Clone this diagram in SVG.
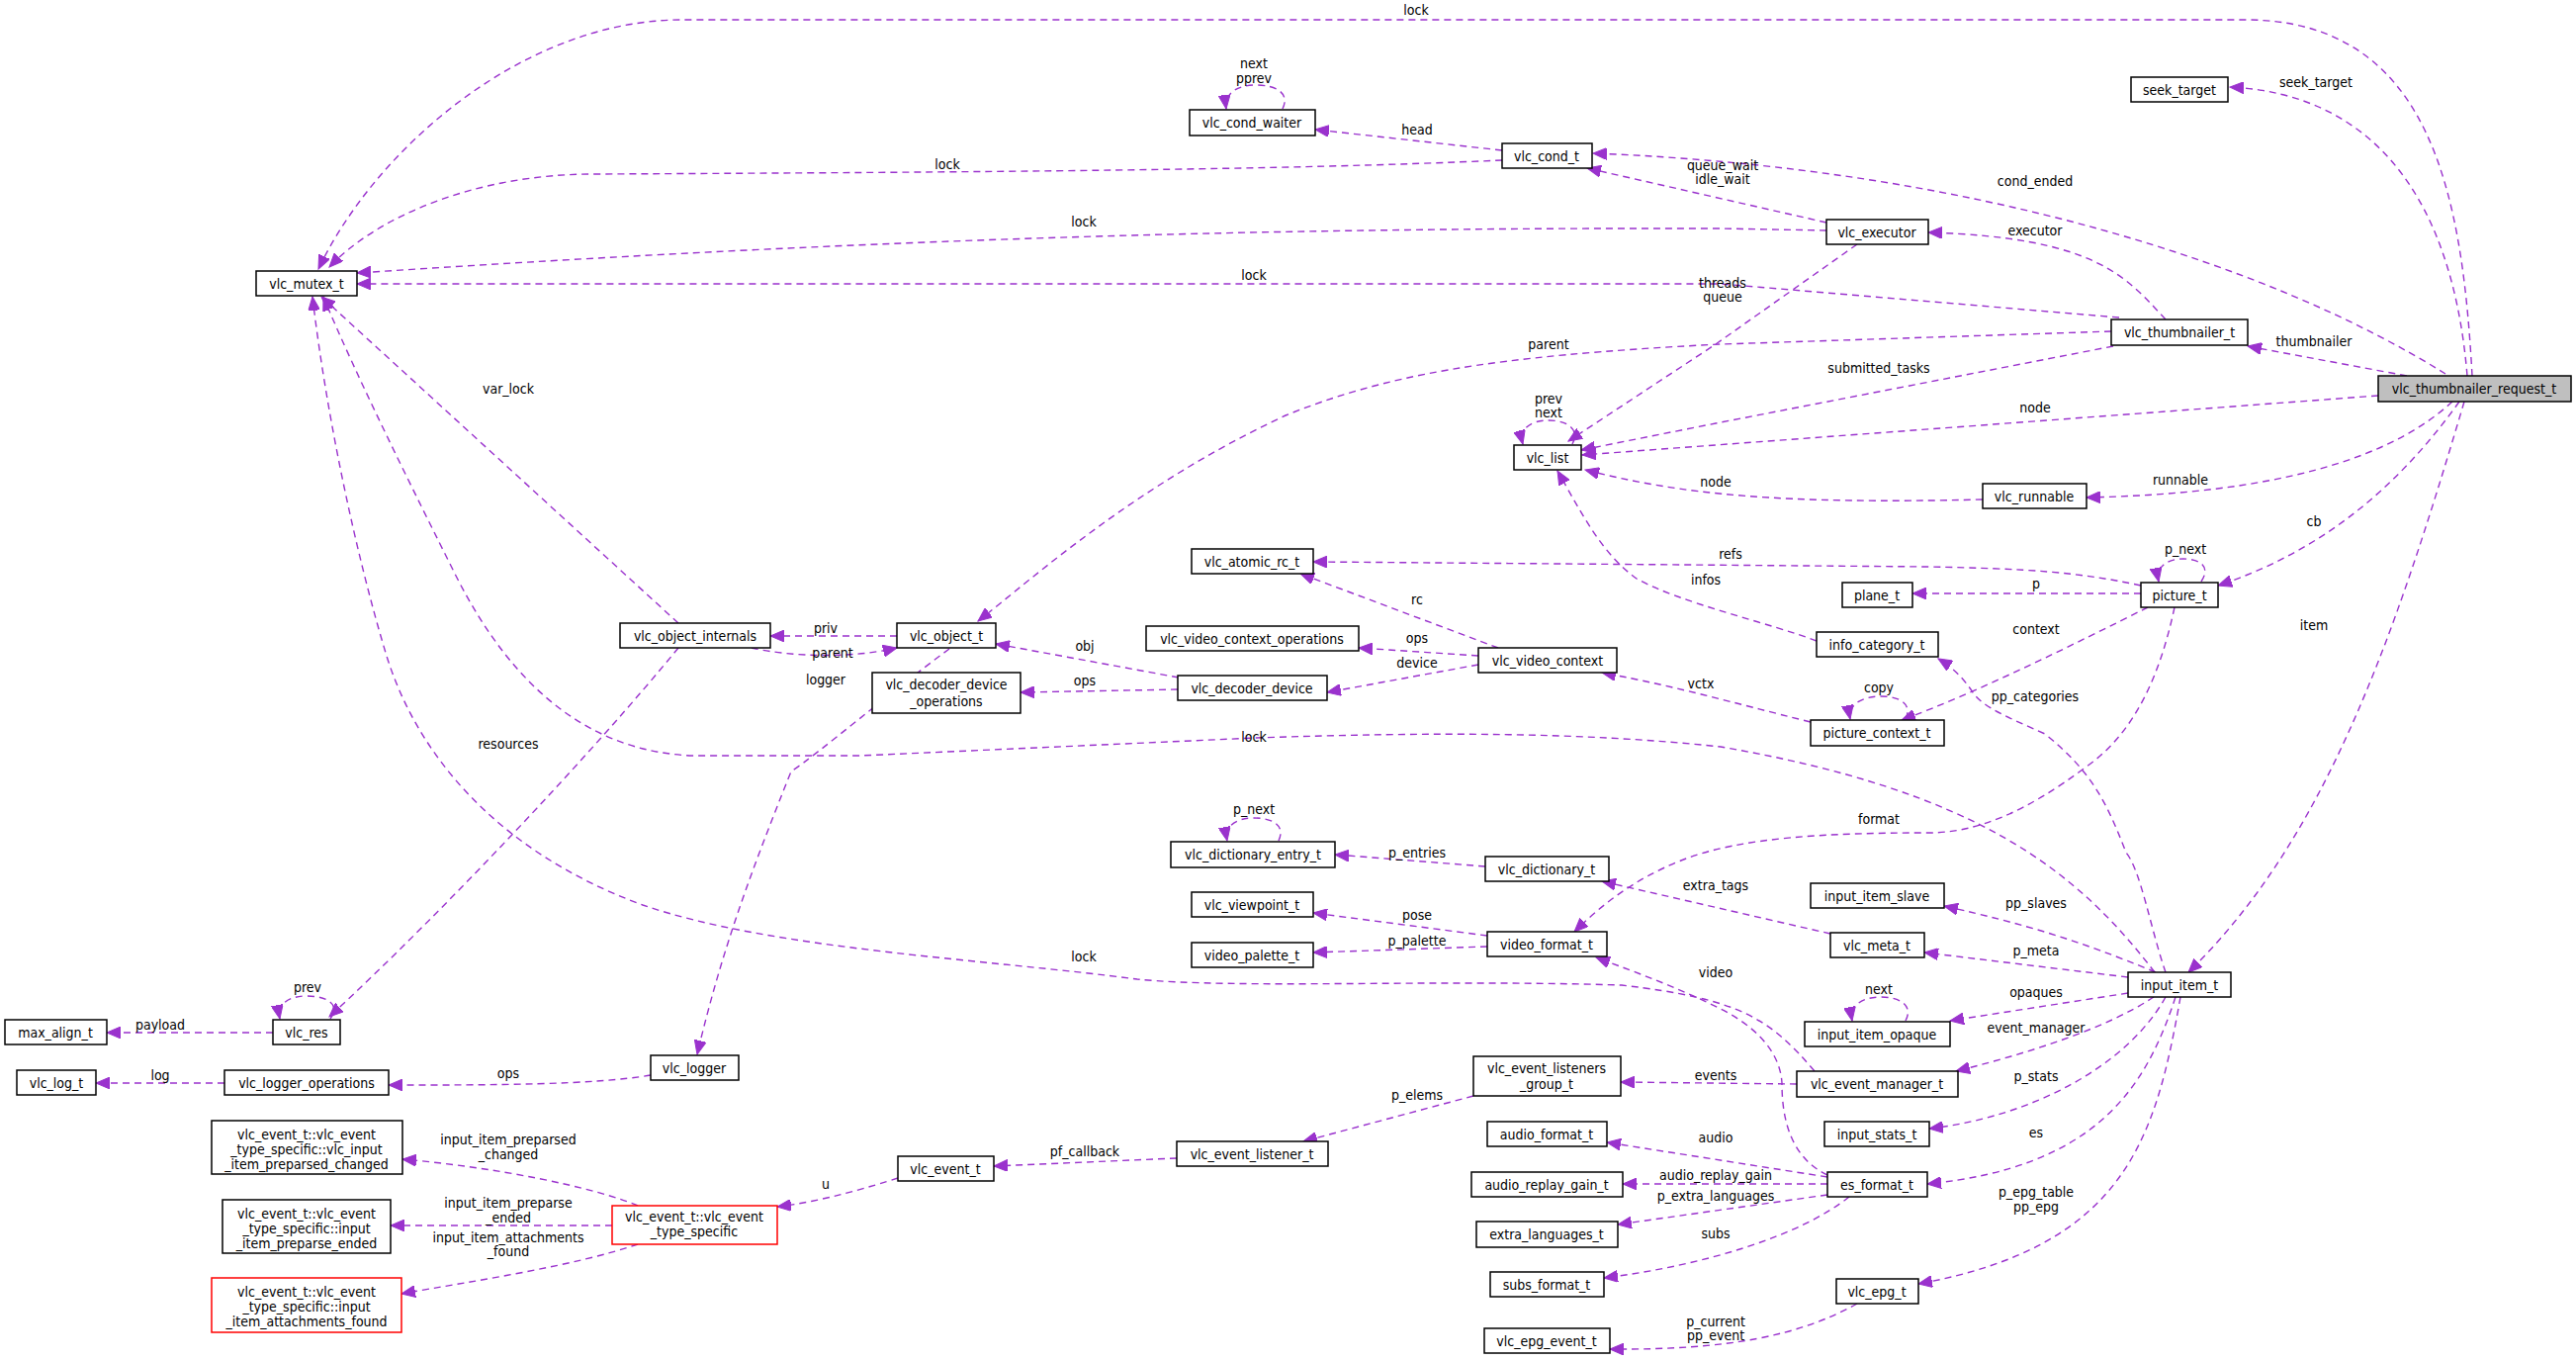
<svg xmlns="http://www.w3.org/2000/svg" width="2605" height="1375" viewBox="0 0 2605 1375">
<style>
text{font-family:"DejaVu Sans Condensed","DejaVu Sans",sans-serif;font-size:14px;fill:#000}
.n rect{fill:#fff;stroke:#000;stroke-width:1.5}
.n text{text-anchor:middle}
.red rect{stroke:#f00}
.cur rect{fill:#bfbfbf}
.e path{fill:none;stroke:#9a32cd;stroke-width:1.4;stroke-dasharray:7,5;marker-end:url(#ah)}
.e text{text-anchor:middle}
</style>
<defs>
<marker id="ah" markerUnits="userSpaceOnUse" markerWidth="16" markerHeight="12" refX="14" refY="6" orient="auto">
<path d="M0,0 L14,6 L0,12 z" fill="#9a32cd" stroke="#9a32cd"/>
</marker>
</defs>
<rect width="2605" height="1375" fill="#fff"/>
<g id="edges" class="e">
<path d="M2500,380 C2490,200 2460,20 2270,20 L690,20 C530,20 380,150 322,272"/><text x="1432" y="15">lock</text>
<path d="M2495,380 C2480,200 2400,95 2255,88"/><text x="2342" y="88">seek_target</text>
<path d="M2473,378 C2300,270 2000,170 1611,155"/><text x="2058" y="188">cond_ended</text>
<path d="M2434,380 L2273,350"/><text x="2340" y="350">thumbnailer</text>
<path d="M2405,400 L1600,460"/><text x="2058" y="417">node</text>
<path d="M2480,406 C2400,480 2250,500 2110,503"/><text x="2205" y="490">runnable</text>
<path d="M2487,406 C2420,500 2340,560 2243,592"/><text x="2340" y="532">cb</text>
<path d="M2492,406 C2420,650 2350,850 2213,983"/><text x="2340" y="637">item</text>
<path d="M2190,323 C2150,280 2120,240 1950,235"/><text x="2058" y="238">executor</text>
<path d="M2143,321 L1740,287 L361,287"/><text x="1268" y="283">lock</text>
<path d="M1878,247 L1735,348 L1586,446"/><text x="1742" y="291">threads</text><text x="1742" y="305">queue</text>
<path d="M2135,335 L1740,348 C1500,360 1400,380 1300,420 C1150,490 1050,580 989,628"/><text x="1566" y="353">parent</text>
<path d="M2137,350 L1735,428 L1599,455"/><text x="1900" y="377">submitted_tasks</text>
<path d="M1847,225 L1605,170"/><text x="1742" y="172">queue_wait</text><text x="1742" y="186">idle_wait</text>
<path d="M1847,233 L1740,231 C1300,230 900,240 361,276"/><text x="1096" y="229">lock</text>
<path d="M1519,162 C1300,172 1000,174 600,176 C480,176 380,220 333,270"/><text x="958" y="171">lock</text>
<path d="M1519,152 L1330,131"/><text x="1433" y="136">head</text>
<path d="M1297,110 C1305,94 1290,86 1270,86 C1250,86 1238,95 1240,110"/><text x="1268" y="69">next</text><text x="1268" y="84">pprev</text>
<path d="M1590,449 C1598,434 1585,425 1566,425 C1547,425 1536,434 1540,449"/><text x="1566" y="408">prev</text><text x="1566" y="422">next</text>
<path d="M2005,505 C1800,510 1700,500 1603,475"/><text x="1735" y="492">node</text>
<path d="M2165,592 C2100,578 2050,575 1950,573 L1328,568"/><text x="1750" y="565">refs</text>
<path d="M2165,600 L1934,600"/><text x="2059" y="595">p</text>
<path d="M2226,588 C2236,573 2225,565 2208,565 C2190,565 2180,574 2183,588"/><text x="2210" y="560">p_next</text>
<path d="M2172,614 C2100,650 2000,700 1923,728"/><text x="2059" y="641">context</text>
<path d="M2199,614 C2185,680 2160,740 2110,775 C2050,820 2000,842 1950,842 C1850,842 1760,846 1700,870 C1650,890 1620,915 1592,942"/><text x="1900" y="833">format</text>
<path d="M1831,730 C1750,710 1700,695 1620,680"/><text x="1720" y="696">vctx</text>
<path d="M1927,727 C1934,712 1922,704 1902,704 C1884,704 1868,712 1871,727"/><text x="1900" y="700">copy</text>
<path d="M1837,648 C1790,630 1700,610 1655,585 C1620,560 1600,520 1575,476"/><text x="1725" y="591">infos</text>
<path d="M2190,983 C2175,940 2165,880 2150,862 C2130,810 2115,780 2068,742 C2030,725 2005,715 1995,700 C1985,685 1975,675 1960,666"/><text x="2058" y="709">pp_categories</text>
<path d="M1515,655 L1315,580"/><text x="1433" y="611">rc</text>
<path d="M1495,663 L1374,655"/><text x="1433" y="650">ops</text>
<path d="M1495,672 L1342,700"/><text x="1433" y="675">device</text>
<path d="M1192,685 L1007,651"/><text x="1097" y="658">obj</text>
<path d="M1191,697 L1032,700"/><text x="1097" y="693">ops</text>
<path d="M907,643 L779,643"/><text x="835" y="640">priv</text>
<path d="M760,655 C800,664 860,666 907,655"/><text x="842" y="665">parent</text>
<path d="M686,630 L325,300"/><text x="514" y="398">var_lock</text>
<path d="M686,655 C600,760 450,920 333,1028"/><text x="514" y="757">resources</text>
<path d="M960,656 C900,700 830,760 800,780 C760,880 730,960 705,1066"/><text x="835" y="692">logger</text>
<path d="M334,1030 C345,1015 330,1007 310,1007 C292,1007 280,1015 283,1030"/><text x="311" y="1003">prev</text>
<path d="M276,1044 L108,1044"/><text x="162" y="1041">payload</text>
<path d="M658,1087 C600,1097 500,1097 393,1097"/><text x="514" y="1090">ops</text>
<path d="M227,1095 L97,1095"/><text x="162" y="1092">log</text>
<path d="M2179,983 C2100,880 2000,800 1740,755 C1600,740 1450,740 1270,746 L870,764 L700,764 C600,760 520,700 460,580 C420,500 360,380 327,300"/><text x="1268" y="750">lock</text>
<path d="M1835,1083 C1790,1030 1760,1010 1640,996 C1450,990 1250,1000 1150,990 C1000,970 780,960 650,915 C500,860 420,760 390,660 C360,560 330,420 316,300"/><text x="1096" y="972">lock</text>
<path d="M1502,876 L1350,864"/><text x="1433" y="867">p_entries</text>
<path d="M1293,850 C1300,835 1288,827 1268,827 C1250,827 1238,835 1241,850"/><text x="1268" y="823">p_next</text>
<path d="M1851,944 L1620,891"/><text x="1735" y="900">extra_tags</text>
<path d="M1504,946 L1328,923"/><text x="1433" y="930">pose</text>
<path d="M1504,957 L1328,963"/><text x="1433" y="956">p_palette</text>
<path d="M1848,1188 C1810,1170 1802,1130 1802,1095 C1800,1060 1770,1035 1740,1020 C1700,1000 1660,985 1614,968"/><text x="1735" y="988">video</text>
<path d="M2180,983 C2100,950 2050,935 1966,916"/><text x="2059" y="918">pp_slaves</text>
<path d="M2152,988 L1946,963"/><text x="2059" y="966">p_meta</text>
<path d="M2152,1004 L1972,1032"/><text x="2059" y="1008">opaques</text>
<path d="M1927,1032 C1935,1017 1922,1008 1902,1008 C1884,1008 1870,1016 1873,1032"/><text x="1900" y="1005">next</text>
<path d="M2178,1008 C2130,1040 2050,1065 1978,1083"/><text x="2059" y="1044">event_manager</text>
<path d="M2190,1008 C2150,1080 2050,1130 1951,1141"/><text x="2059" y="1093">p_stats</text>
<path d="M2200,1008 C2170,1100 2120,1180 1949,1197"/><text x="2059" y="1150">es</text>
<path d="M2205,1008 C2180,1150 2150,1260 1940,1298"/><text x="2059" y="1210">p_epg_table</text><text x="2059" y="1225">pp_epg</text>
<path d="M1817,1096 L1639,1094"/><text x="1735" y="1092">events</text>
<path d="M1490,1108 L1318,1154"/><text x="1433" y="1112">p_elems</text>
<path d="M1190,1171 L1005,1179"/><text x="1097" y="1169">pf_callback</text>
<path d="M908,1191 C880,1200 830,1215 786,1220"/><text x="835" y="1202">u</text>
<path d="M645,1219 C600,1200 500,1180 407,1172"/><text x="514" y="1157">input_item_preparsed</text><text x="514" y="1172">_changed</text>
<path d="M619,1239 L395,1239"/><text x="514" y="1221">input_item_preparse</text><text x="514" y="1236">_ended</text>
<path d="M645,1258 C580,1280 480,1295 406,1308"/><text x="514" y="1256">input_item_attachments</text><text x="514" y="1270">_found</text>
<path d="M1848,1190 L1625,1155"/><text x="1735" y="1155">audio</text>
<path d="M1848,1197 L1641,1197"/><text x="1735" y="1193">audio_replay_gain</text>
<path d="M1848,1208 L1636,1238"/><text x="1735" y="1214">p_extra_languages</text>
<path d="M1870,1210 C1820,1250 1720,1280 1622,1292"/><text x="1735" y="1252">subs</text>
<path d="M1878,1318 C1820,1350 1750,1365 1628,1364"/><text x="1735" y="1341">p_current</text><text x="1735" y="1355">pp_event</text>
</g>
<g id="vlc_thumbnailer_request_t" class="n cur"><rect x="2405" y="380" width="195" height="26"/><text x="2502" y="398">vlc_thumbnailer_request_t</text></g>
<g id="vlc_mutex_t" class="n"><rect x="259" y="274" width="102" height="25"/><text x="310" y="292">vlc_mutex_t</text></g>
<g id="seek_target" class="n"><rect x="2155" y="78" width="98" height="25"/><text x="2204" y="96">seek_target</text></g>
<g id="vlc_cond_waiter" class="n"><rect x="1203" y="111" width="127" height="26"/><text x="1266" y="129">vlc_cond_waiter</text></g>
<g id="vlc_cond_t" class="n"><rect x="1519" y="145" width="91" height="25"/><text x="1564" y="163">vlc_cond_t</text></g>
<g id="vlc_executor" class="n"><rect x="1847" y="222" width="103" height="25"/><text x="1898" y="240">vlc_executor</text></g>
<g id="vlc_thumbnailer_t" class="n"><rect x="2135" y="323" width="138" height="26"/><text x="2204" y="341">vlc_thumbnailer_t</text></g>
<g id="vlc_list" class="n"><rect x="1531" y="450" width="68" height="25"/><text x="1565" y="468">vlc_list</text></g>
<g id="vlc_runnable" class="n"><rect x="2005" y="489" width="105" height="25"/><text x="2057" y="507">vlc_runnable</text></g>
<g id="vlc_atomic_rc_t" class="n"><rect x="1205" y="555" width="123" height="25"/><text x="1266" y="573">vlc_atomic_rc_t</text></g>
<g id="plane_t" class="n"><rect x="1863" y="589" width="71" height="25"/><text x="1898" y="607">plane_t</text></g>
<g id="picture_t" class="n"><rect x="2165" y="589" width="78" height="25"/><text x="2204" y="607">picture_t</text></g>
<g id="vlc_object_internals" class="n"><rect x="627" y="630" width="152" height="25"/><text x="703" y="648">vlc_object_internals</text></g>
<g id="vlc_object_t" class="n"><rect x="907" y="630" width="100" height="25"/><text x="957" y="648">vlc_object_t</text></g>
<g id="vlc_video_context_operations" class="n"><rect x="1159" y="633" width="215" height="25"/><text x="1266" y="651">vlc_video_context_operations</text></g>
<g id="info_category_t" class="n"><rect x="1837" y="639" width="123" height="25"/><text x="1898" y="657">info_category_t</text></g>
<g id="vlc_video_context" class="n"><rect x="1495" y="655" width="140" height="25"/><text x="1565" y="673">vlc_video_context</text></g>
<g id="vlc_decoder_device_operations" class="n"><rect x="882" y="680" width="150" height="41"/><text x="957" y="697">vlc_decoder_device</text><text x="957" y="714">_operations</text></g>
<g id="vlc_decoder_device" class="n"><rect x="1191" y="683" width="151" height="25"/><text x="1266" y="701">vlc_decoder_device</text></g>
<g id="picture_context_t" class="n"><rect x="1831" y="728" width="135" height="26"/><text x="1898" y="746">picture_context_t</text></g>
<g id="vlc_dictionary_entry_t" class="n"><rect x="1184" y="851" width="166" height="26"/><text x="1267" y="869">vlc_dictionary_entry_t</text></g>
<g id="vlc_dictionary_t" class="n"><rect x="1502" y="866" width="125" height="25"/><text x="1564" y="884">vlc_dictionary_t</text></g>
<g id="input_item_slave" class="n"><rect x="1831" y="893" width="135" height="25"/><text x="1898" y="911">input_item_slave</text></g>
<g id="vlc_viewpoint_t" class="n"><rect x="1205" y="902" width="123" height="25"/><text x="1266" y="920">vlc_viewpoint_t</text></g>
<g id="video_format_t" class="n"><rect x="1504" y="942" width="121" height="25"/><text x="1564" y="960">video_format_t</text></g>
<g id="vlc_meta_t" class="n"><rect x="1851" y="943" width="95" height="25"/><text x="1898" y="961">vlc_meta_t</text></g>
<g id="video_palette_t" class="n"><rect x="1205" y="953" width="123" height="25"/><text x="1266" y="971">video_palette_t</text></g>
<g id="input_item_t" class="n"><rect x="2152" y="983" width="104" height="25"/><text x="2204" y="1001">input_item_t</text></g>
<g id="vlc_res" class="n"><rect x="276" y="1031" width="68" height="25"/><text x="310" y="1049">vlc_res</text></g>
<g id="max_align_t" class="n"><rect x="5" y="1031" width="103" height="25"/><text x="56" y="1049">max_align_t</text></g>
<g id="input_item_opaque" class="n"><rect x="1825" y="1033" width="147" height="25"/><text x="1898" y="1051">input_item_opaque</text></g>
<g id="vlc_logger" class="n"><rect x="658" y="1067" width="89" height="25"/><text x="702" y="1085">vlc_logger</text></g>
<g id="vlc_event_listeners_group_t" class="n"><rect x="1490" y="1068" width="149" height="40"/><text x="1564" y="1085">vlc_event_listeners</text><text x="1564" y="1101">_group_t</text></g>
<g id="vlc_log_t" class="n"><rect x="17" y="1082" width="80" height="25"/><text x="57" y="1100">vlc_log_t</text></g>
<g id="vlc_logger_operations" class="n"><rect x="227" y="1082" width="166" height="25"/><text x="310" y="1100">vlc_logger_operations</text></g>
<g id="vlc_event_manager_t" class="n"><rect x="1817" y="1083" width="163" height="26"/><text x="1898" y="1101">vlc_event_manager_t</text></g>
<g id="vlc_event_changed" class="n"><rect x="214" y="1133" width="193" height="54"/><text x="310" y="1152">vlc_event_t::vlc_event</text><text x="310" y="1167">_type_specific::vlc_input</text><text x="310" y="1182">_item_preparsed_changed</text></g>
<g id="audio_format_t" class="n"><rect x="1504" y="1134" width="121" height="25"/><text x="1564" y="1152">audio_format_t</text></g>
<g id="input_stats_t" class="n"><rect x="1845" y="1134" width="106" height="25"/><text x="1898" y="1152">input_stats_t</text></g>
<g id="vlc_event_listener_t" class="n"><rect x="1190" y="1154" width="153" height="25"/><text x="1266" y="1172">vlc_event_listener_t</text></g>
<g id="vlc_event_t" class="n"><rect x="908" y="1169" width="97" height="25"/><text x="956" y="1187">vlc_event_t</text></g>
<g id="audio_replay_gain_t" class="n"><rect x="1488" y="1185" width="153" height="25"/><text x="1564" y="1203">audio_replay_gain_t</text></g>
<g id="es_format_t" class="n"><rect x="1848" y="1185" width="101" height="25"/><text x="1898" y="1203">es_format_t</text></g>
<g id="vlc_event_ended" class="n"><rect x="225" y="1213" width="170" height="54"/><text x="310" y="1232">vlc_event_t::vlc_event</text><text x="310" y="1247">_type_specific::input</text><text x="310" y="1262">_item_preparse_ended</text></g>
<g id="vlc_event_type_specific" class="n red"><rect x="619" y="1219" width="167" height="39"/><text x="702" y="1235">vlc_event_t::vlc_event</text><text x="702" y="1250">_type_specific</text></g>
<g id="extra_languages_t" class="n"><rect x="1493" y="1235" width="143" height="26"/><text x="1564" y="1253">extra_languages_t</text></g>
<g id="subs_format_t" class="n"><rect x="1507" y="1286" width="115" height="25"/><text x="1564" y="1304">subs_format_t</text></g>
<g id="vlc_event_found" class="n red"><rect x="214" y="1292" width="192" height="55"/><text x="310" y="1311">vlc_event_t::vlc_event</text><text x="310" y="1326">_type_specific::input</text><text x="310" y="1341">_item_attachments_found</text></g>
<g id="vlc_epg_t" class="n"><rect x="1857" y="1293" width="83" height="25"/><text x="1898" y="1311">vlc_epg_t</text></g>
<g id="vlc_epg_event_t" class="n"><rect x="1501" y="1343" width="127" height="25"/><text x="1564" y="1361">vlc_epg_event_t</text></g>
</svg>
